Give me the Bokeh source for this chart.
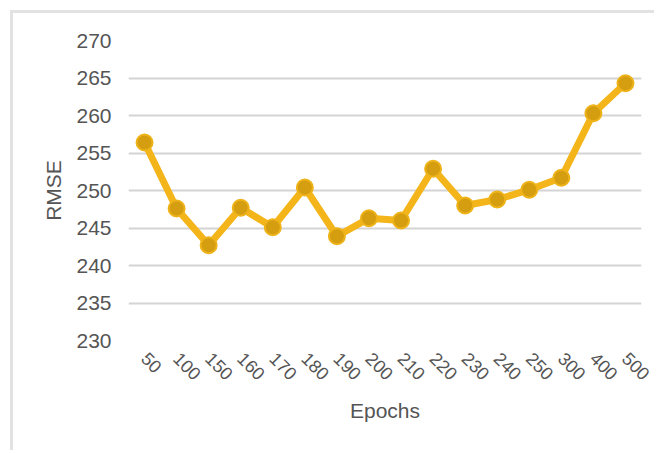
import math
from bokeh.plotting import figure
from bokeh.models import Range1d, FixedTicker
from bokeh.embed import file_html
from bokeh.resources import INLINE

epochs = ["50", "100", "150", "160", "170", "180", "190", "200", "210", "220",
          "230", "240", "250", "300", "400", "500"]
rmse = [256.4, 247.6, 242.7, 247.7, 245.1, 250.4, 243.9, 246.3, 246.0, 252.9,
        248.0, 248.8, 250.1, 251.7, 260.3, 264.3]
y_ticks = [230, 235, 240, 245, 250, 255, 260, 265, 270]

p = figure(x_range=epochs, y_range=Range1d(230, 270), width=644, height=440,
           output_backend="svg", toolbar_location=None,
           min_border_left=115, min_border_right=16, min_border_top=27, min_border_bottom=113,
           margin=(13, 0, 0, 13))
# outer light-grey frame on the top and left edges
p.styles = {"box-shadow": "-3px -3px 0 0 #e2e2e2"}
p.outline_line_color = None

p.line(epochs, rmse, line_color="#F3B51A", line_width=7, line_join="round")
p.scatter(epochs, rmse, size=16, fill_color="#D59E10", line_color="#EFB31A", line_width=2)

font = "Liberation Sans"
p.yaxis.ticker = FixedTicker(ticks=y_ticks)
p.ygrid.ticker = FixedTicker(ticks=y_ticks)
p.ygrid.grid_line_color = "#d4d4d4"
p.ygrid.grid_line_width = 2
p.xgrid.grid_line_color = None
for ax in (p.xaxis, p.yaxis):
    ax.axis_line_color = None
    ax.major_tick_line_color = None
    ax.minor_tick_line_color = None
    ax.major_label_text_font = font
    ax.major_label_text_color = "#555555"
    ax.axis_label_text_font = font
    ax.axis_label_text_font_style = "normal"
    ax.axis_label_text_color = "#555555"
    ax.axis_label_text_font_size = "21px"
p.yaxis.major_label_text_font_size = "21px"
p.xaxis.major_label_text_font_size = "18px"

p.yaxis.axis_label = "RMSE"
p.yaxis.major_label_standoff = 11
p.yaxis.axis_label_standoff = 8
p.xaxis.axis_label = "Epochs"
p.xaxis.major_label_orientation = -math.pi / 4
p.xaxis.major_label_standoff = 9
p.xaxis.axis_label_standoff = 10

open("out.html", "w").write(file_html(p, INLINE))
